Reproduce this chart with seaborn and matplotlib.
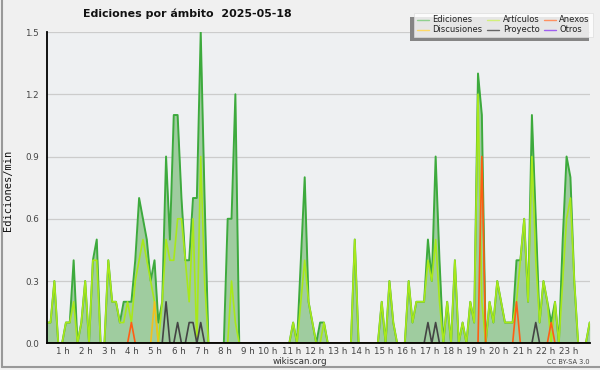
import matplotlib
matplotlib.use("Agg")
import matplotlib.pyplot as plt
import numpy as np
import pandas as pd
import seaborn as sns

# edits per minute, one value per 10-minute slot, 00:00 .. 23:30
ediciones = [
    0.1, 0.1, 0.3, 0, 0, 0.1,
    0.1, 0.4, 0, 0.1, 0.3, 0,
    0.4, 0.5, 0, 0, 0.4, 0.2,
    0.2, 0.1, 0.2, 0.2, 0.2, 0.4,
    0.7, 0.6, 0.5, 0.3, 0.4, 0.1,
    0.2, 0.9, 0.5, 1.1, 1.1, 0.7,
    0.4, 0.4, 0.7, 0.7, 1.5, 0.7,
    0, 0, 0, 0, 0, 0.6,
    0.6, 1.2, 0, 0, 0, 0,
    0, 0, 0, 0, 0, 0,
    0, 0, 0, 0, 0.1, 0,
    0.4, 0.8, 0.2, 0.1, 0, 0.1,
    0.1, 0, 0, 0, 0, 0,
    0, 0, 0.5, 0, 0, 0,
    0, 0, 0, 0.2, 0, 0.3,
    0.1, 0, 0, 0, 0.3, 0.1,
    0.2, 0.2, 0.2, 0.5, 0.3, 0.9,
    0.4, 0, 0.2, 0, 0.4, 0,
    0.1, 0, 0.2, 0.1, 1.3, 1.1,
    0, 0.2, 0.1, 0.3, 0.2, 0.1,
    0.1, 0.1, 0.4, 0.4, 0.6, 0.2,
    1.1, 0.6, 0.1, 0.3, 0.2, 0.1,
    0.2, 0, 0.5, 0.9, 0.8, 0.3,
    0, 0, 0, 0.1,
]
articulos = [
    0.1, 0.1, 0.3, 0, 0, 0.1,
    0.1, 0.2, 0, 0.1, 0.3, 0,
    0.4, 0.4, 0, 0, 0.4, 0.2,
    0.2, 0.1, 0.1, 0.2, 0.1, 0.3,
    0.4, 0.5, 0.4, 0.3, 0.2, 0,
    0.2, 0.5, 0.4, 0.4, 0.6, 0.6,
    0.4, 0.2, 0.6, 0, 0.9, 0.3,
    0, 0, 0, 0, 0, 0,
    0.3, 0.1, 0, 0, 0, 0,
    0, 0, 0, 0, 0, 0,
    0, 0, 0, 0, 0.1, 0,
    0.2, 0.4, 0.2, 0.1, 0, 0,
    0.1, 0, 0, 0, 0, 0,
    0, 0, 0.5, 0, 0, 0,
    0, 0, 0, 0.2, 0, 0.3,
    0.1, 0, 0, 0, 0.3, 0.1,
    0.2, 0.2, 0.2, 0.4, 0.3, 0.5,
    0.2, 0, 0.2, 0, 0.4, 0,
    0.1, 0, 0.2, 0.1, 1.2, 0.2,
    0, 0.2, 0.1, 0.3, 0.2, 0.1,
    0.1, 0.1, 0.2, 0.4, 0.6, 0.2,
    0.9, 0.4, 0.1, 0.3, 0.2, 0,
    0.2, 0, 0.3, 0.6, 0.7, 0.3,
    0, 0, 0, 0.1,
]
# sparse series: only the non-zero slots
anexos = {"03:40": 0.1, "18:50": 0.9, "20:20": 0.2, "21:50": 0.1}
discusiones = {"04:40": 0.2}
proyecto = {"05:10": 0.2, "05:40": 0.1, "06:10": 0.1, "06:20": 0.1,
            "06:40": 0.1, "16:30": 0.1, "16:50": 0.1, "21:10": 0.1}
otros = {}

horas = [f"{h} h" for h in range(1, 24)]
y_ticks = [0.0, 0.3, 0.6, 0.9, 1.2, 1.5]

slots = [f"{i // 6:02d}:{i % 6 * 10:02d}" for i in range(len(ediciones))]
x = np.arange(len(slots)) / 6


def full(sparse):
    return [sparse.get(s, 0) for s in slots]


df = pd.DataFrame({
    "hora": x,
    "Ediciones": ediciones,
    "Artículos": articulos,
    "Anexos": full(anexos),
    "Discusiones": full(discusiones),
    "Proyecto": full(proyecto),
    "Otros": full(otros),
})

line_colors = {
    "Ediciones": "#3daa3d",
    "Artículos": "#a8e81a",
    "Anexos": "#ff5e14",
    "Discusiones": "#f2c01e",
    "Proyecto": "#444444",
    "Otros": "#9933ee",
}
legend_colors = {
    "Ediciones": "#8fd08f",
    "Artículos": "#d2f07a",
    "Anexos": "#ff9060",
    "Discusiones": "#ffd966",
    "Proyecto": "#666666",
    "Otros": "#a060f0",
}

sns.set_theme(style="white")
plt.rcParams['font.family'] = ['DejaVu Sans']

fig = plt.figure(figsize=(6, 3.7), dpi=100, facecolor="#f0f0f0")
ax = fig.add_axes([0.0778, 0.0722, 0.905, 0.8413])
ax.set_facecolor("#eef0f2")

ax.fill_between(df["hora"], df["Ediciones"], color="#9fcc9f", linewidth=0, zorder=2)
sns.lineplot(data=df, x="hora", y="Ediciones", color=line_colors["Ediciones"],
             linewidth=1.4, ax=ax, zorder=3)
for name in ["Artículos", "Discusiones", "Anexos", "Proyecto", "Otros"]:
    if df[name].sum() == 0:
        continue
    sns.lineplot(data=df, x="hora", y=name, color=line_colors[name],
                 linewidth=1.2, ax=ax, zorder=4)

ax.set_xlim(x[0], x[-1])
ax.set_ylim(0, 1.5)
ax.set_yticks(y_ticks)
ax.set_yticklabels([f"{v:.1f}" for v in y_ticks])
ax.set_yticks(np.arange(0, 1.5001, 0.075), minor=True)
ax.set_xticks(np.arange(1, 24))
ax.set_xticklabels(horas, ha="right")
ax.set_xticks(x, minor=True)
ax.grid(axis="y", which="major", color="#cccccc", linewidth=0.9, zorder=1)
ax.set_axisbelow(True)
ax.tick_params(axis="both", which="both", direction="out", color="black",
               width=0.8, length=3, labelsize=6.3, labelcolor="#444444", pad=0)
ax.tick_params(axis="y", which="both", length=4, pad=1.5)
for side in ["top", "right"]:
    ax.spines[side].set_visible(False)
for side in ["left", "bottom"]:
    ax.spines[side].set_color("black")
    ax.spines[side].set_linewidth(1.3)
    ax.spines[side].set_zorder(10)
ax.set_xlabel("")
ax.set_ylabel("")

fig.text(0.313, 0.962, "Ediciones por ámbito  2025-05-18", ha="center", va="center",
         fontsize=7.9, fontweight="bold", color="#111111")
fig.text(0.014, 0.486, "Ediciones/min", rotation=90, ha="center", va="center",
         fontsize=7.5, family="DejaVu Sans Mono", color="#111111")
fig.text(0.5, 0.022, "wikiscan.org", ha="center", va="center", fontsize=6.3, color="#333333")
fig.text(0.983, 0.021, "CC BY-SA 3.0", ha="right", va="center", fontsize=4.8, color="#444444")

order = ["Ediciones", "Discusiones", "Artículos", "Proyecto", "Anexos", "Otros"]
handles = [plt.Line2D([], [], color=legend_colors[n], linewidth=1) for n in order]
leg = fig.legend(handles, order, ncol=3, loc="upper right", bbox_to_anchor=(0.988, 0.966),
                 fontsize=6, frameon=True, fancybox=False, shadow=False, handlelength=1.5,
                 handletextpad=0.4, columnspacing=0.5, labelspacing=0.12, borderpad=0.35,
                 borderaxespad=0)
leg.get_frame().set_facecolor("white")
leg.get_frame().set_edgecolor("#dddddd")
leg.get_frame().set_linewidth(0.6)
for t in leg.get_texts():
    t.set_color("#222222")

# shadow of the legend box, offset to the lower left as in the original
fig.canvas.draw()
bb = leg.get_window_extent().transformed(fig.transFigure.inverted())
fig.add_artist(plt.Rectangle((bb.x0 - 4 / 600, bb.y0 - 4 / 370), bb.width, bb.height,
                             transform=fig.transFigure, facecolor="#858585",
                             edgecolor="none", zorder=leg.get_zorder() - 1))

fig.add_artist(plt.Line2D([0.003, 0.003], [0.008, 1], color="#999999", linewidth=1.5))
fig.add_artist(plt.Line2D([0.003, 1], [0.008, 0.008], color="#999999", linewidth=1.5))

fig.savefig("out.png", dpi=100, facecolor=fig.get_facecolor())
